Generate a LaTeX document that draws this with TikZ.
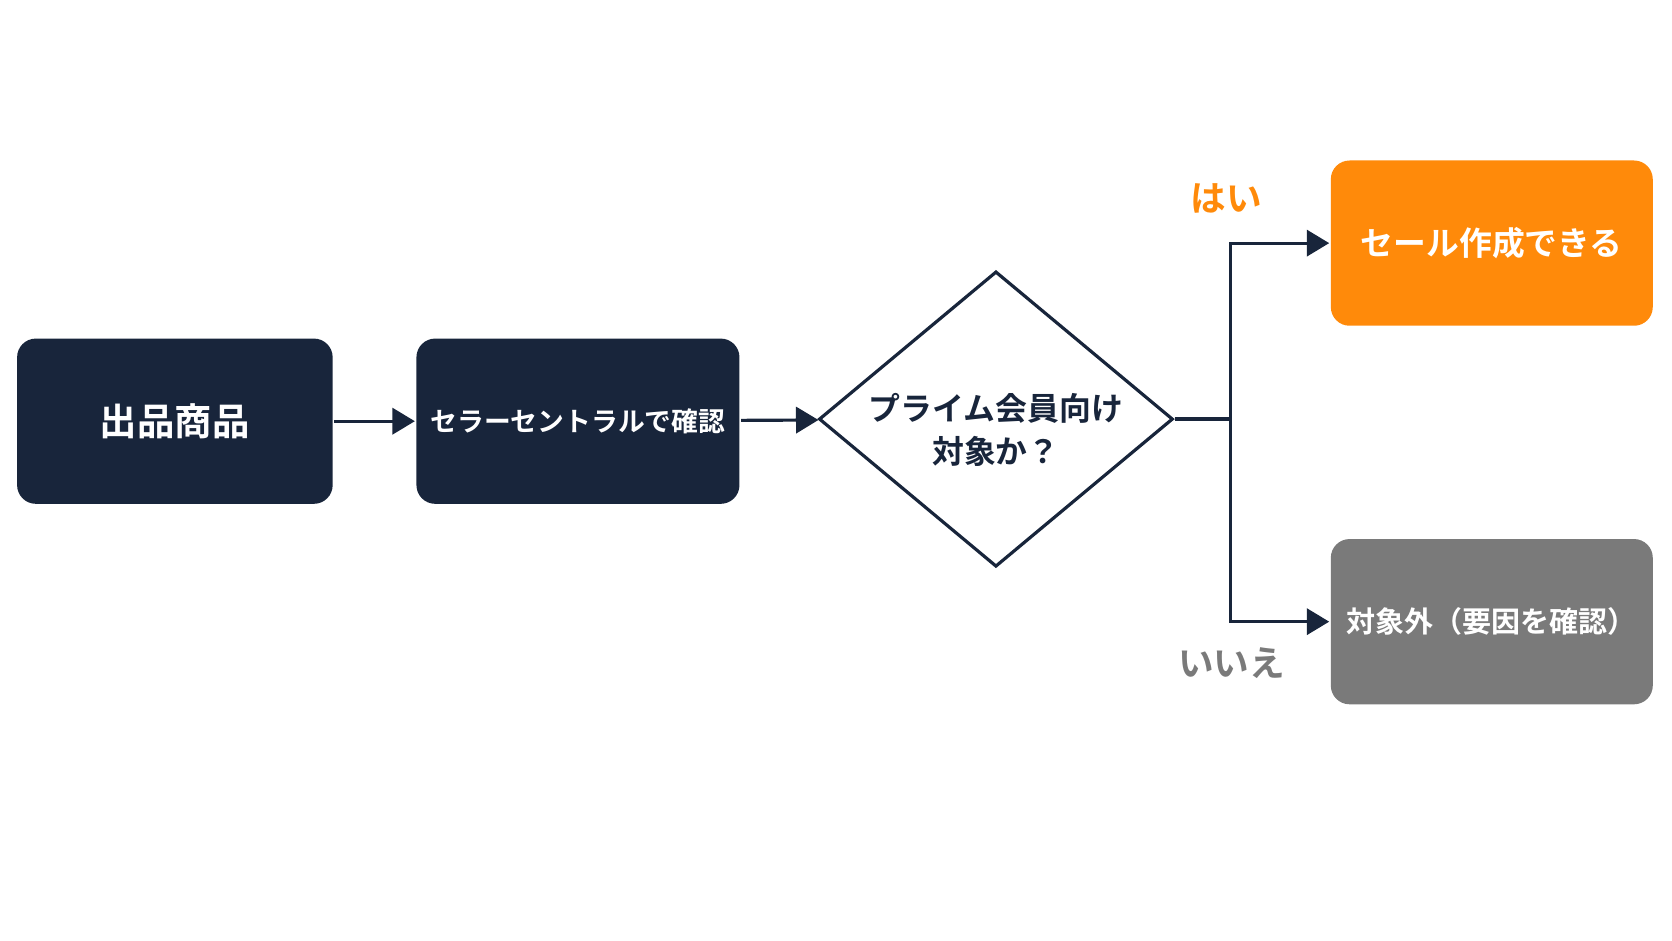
\documentclass[tikz,border=0pt]{standalone}
\usepackage{fontspec}
\setmainfont{Noto Sans CJK JP}[BoldFont={Noto Sans CJK JP Bold}]
\usetikzlibrary{shapes.geometric,arrows.meta,positioning}
\definecolor{navy}{HTML}{18253B}
\definecolor{okorange}{HTML}{FF8A0A}
\definecolor{ngray}{HTML}{7A7A7A}
\begin{document}
\begin{tikzpicture}[x=0.02cm,y=-0.02cm,
  line width=1.7pt,
  step box/.style={rectangle,rounded corners=10pt,fill=navy,text=white,font=\bfseries,
    minimum width=5.98cm,minimum height=3.1cm,inner sep=0pt},
  flow/.style={draw=navy,-{Triangle[length=12pt,width=14pt]}}]

  \useasboundingbox (0,0) rectangle (1568,882);

  \node[step box,minimum width=5.92cm,font=\bfseries\fontsize{20}{24}\selectfont] (item) at (164,395) {出品商品};
  \node[step box,minimum width=6.06cm,font=\bfseries\fontsize{14.3}{18}\selectfont] (seller) at (542,395) {セラーセントラルで確認};
  \node[diamond,draw=navy,fill=white,minimum width=6.64cm,minimum height=5.54cm,inner sep=0pt] (prime) at (934,393) {};
  \node[align=center,font=\bfseries\fontsize{17}{23}\selectfont,text=navy] (primetext) at (934,403) {プライム会員向け\\対象か？};
  \node[step box,fill=okorange,minimum width=6.04cm,font=\bfseries\fontsize{17.5}{21}\selectfont] (yes) at (1399,228) {セール作成できる};
  \node[step box,fill=ngray,minimum width=6.04cm,font=\bfseries\fontsize{15.5}{19}\selectfont] (no) at (1399,583) {対象外（要因を確認）};
  \coordinate (split) at (1154,393);

  \draw[flow] (item) -- (seller);
  \draw[flow] (seller) -- (prime);
  \draw[draw=navy] (prime.east) -- (split);
  \draw[flow] (split) |- (yes.west);
  \draw[flow] (split) |- (no.west);

  \node[text=okorange,font=\bfseries\fontsize{19}{23}\selectfont] (yeslabel) at (1150,186) {はい};
  \node[text=ngray,font=\bfseries\fontsize{19}{23}\selectfont] (nolabel) at (1155,622) {いいえ};
\end{tikzpicture}
\end{document}
